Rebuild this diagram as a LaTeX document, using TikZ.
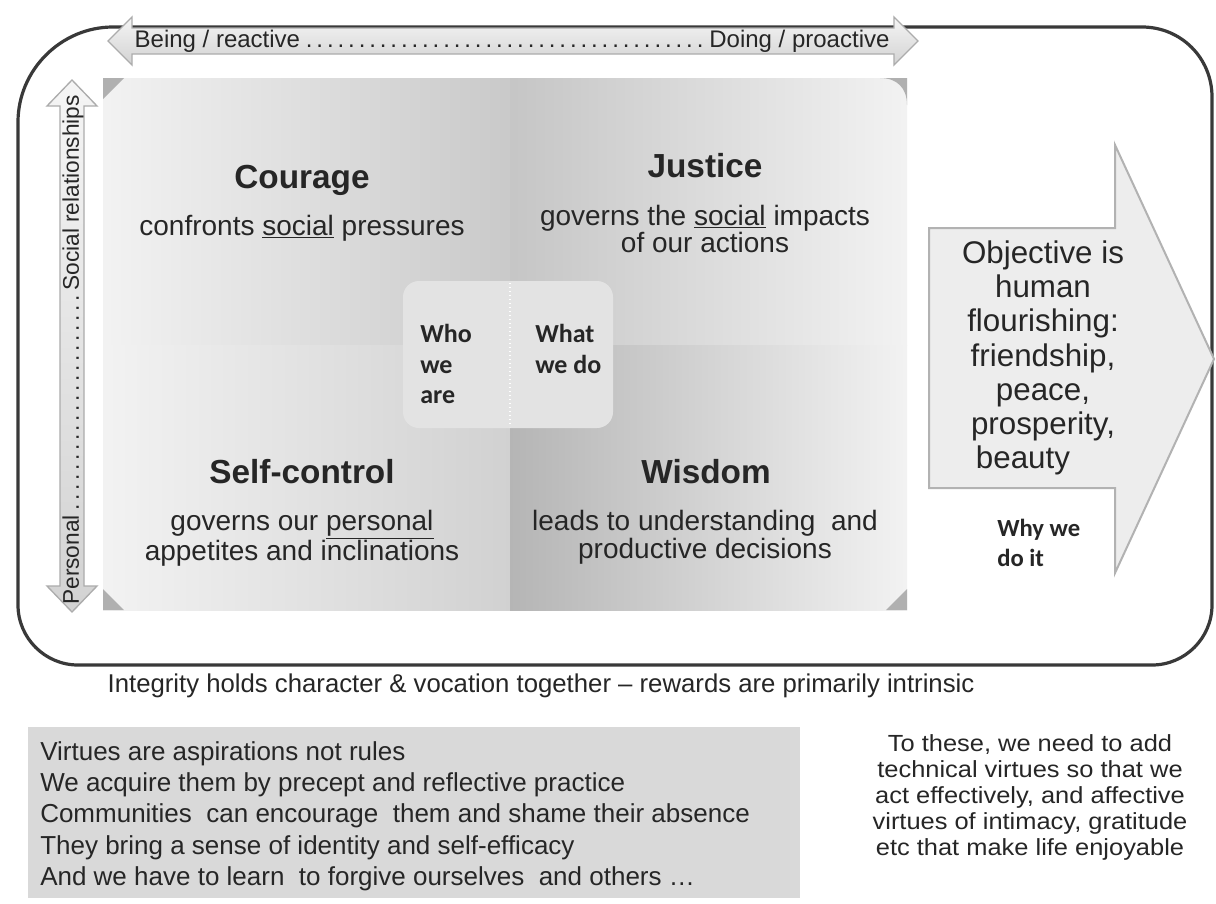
\documentclass[tikz,border=0pt]{standalone}
\usepackage{fontspec}
\setmainfont{Liberation Sans}
\newfontfamily\calib{Carlito}
\newfontfamily\widesans[FakeStretch=1.09]{Liberation Sans}
\begin{document}
\begin{tikzpicture}[x=0.75pt,y=-0.75pt,
  txt/.style={inner sep=0pt, text=black!85},
  title/.style={txt, font=\fontsize{25}{30}\selectfont\bfseries, anchor=base},
  sub/.style={txt, font=\fontsize{21}{21}\selectfont, align=center},
  frame/.style={line width=2.4pt, draw=gray!45!black},
  arrowfill/.style={draw=gray!65, line width=1pt, top color=gray!8, bottom color=gray!35},
  corner/.style={fill=gray!62},
]
\useasboundingbox (0,0) rectangle (1216,903);
\fill[white] (0,0) rectangle (1216,903);

% outer frame
\draw[frame] (18,122) .. controls (18,70) and (61,27) .. (113,27) -- (1142,27)
  .. controls (1181,27) and (1212,58) .. (1212,97) -- (1212,605)
  .. controls (1212,638) and (1185,665) .. (1152,665) -- (78,665)
  .. controls (45,665) and (18,638) .. (18,605) -- cycle;

% inner quadrants
\shade[left color=gray!10, right color=gray!42] (103,78) rectangle (510,345);
\shade[left color=gray!45, right color=gray!10] (510,78) rectangle (907,345);
\shade[left color=gray!10, right color=gray!36] (103,345) rectangle (510,610);
\shade[left color=gray!58, right color=gray!10] (510,345) rectangle (907,610);
% corners
\fill[corner] (103,78) -- (124,78) -- (103,99) -- cycle;
\fill[corner] (103,610) -- (103,589) -- (124,610) -- cycle;
\fill[corner] (907,610) -- (907,589) -- (886,610) -- cycle;
\fill[corner] (880,78) .. controls (897,78) and (907,88) .. (907,105) -- (907,78) -- cycle;

% centre box
\fill[gray!22, rounded corners=12] (403,281) rectangle (613,428);
\draw[white, dotted, line width=1pt] (510,283) -- (510,427);

% top double arrow
\draw[arrowfill] (108,41) -- (132,17) -- (132,28) -- (894,28) -- (894,17) -- (918,41)
  -- (894,65) -- (894,54) -- (132,54) -- (132,65) -- cycle;
\node[txt, font=\fontsize{18}{18}\selectfont] (topaxis) at (512,41)
  {\makebox[566pt]{Being / reactive\dotfill Doing / proactive}};

% left double arrow
\draw[arrowfill] (72,80) -- (97,106) -- (84,106) -- (84,586) -- (97,586) -- (72,612)
  -- (47,586) -- (60,586) -- (60,106) -- (47,106) -- cycle;
\node[txt, font=\fontsize{17}{17}\selectfont, rotate=90] (leftaxis) at (73,350)
  {\makebox[382pt]{Personal\dotfill Social relationships}};

% quadrant texts
\node[title] (courage) at (302,188) {Courage};
\node[txt, font=\fontsize{21}{21}\selectfont, anchor=base] (couragetxt) at (302,235)
  {confronts \underline{social} pressures};
\node[title] (justice) at (705,177) {Justice};
\node[sub, font=\fontsize{21}{20.3}\selectfont, anchor=north] (justicetxt) at (705,205)
  {governs the \underline{social} impacts\\of our actions};
\node[title] (selfcontrol) at (302,483) {Self-control};
\node[sub, font=\fontsize{21}{21}\selectfont, anchor=north] (selftxt) at (302,510)
  {governs our \underline{personal}\\appetites and inclinations};
\node[title] (wisdom) at (706,483) {Wisdom};
\node[sub, font=\fontsize{21}{21}\selectfont, anchor=north] (wisdomtxt) at (705,510)
  {leads to understanding\ \ and\\productive decisions};

% centre labels
\node[txt, font=\calib\fontsize{19.5}{23}\selectfont\bfseries, align=left, anchor=north west]
  (who) at (420,324) {Who\\we\\are};
\node[txt, font=\calib\fontsize{19.5}{23}\selectfont\bfseries, align=left, anchor=north west]
  (what) at (535,324) {What\\we do};

% right arrow
\draw[draw=gray!60, line width=1.5pt, fill=gray!14] (929,228) -- (1115,228) -- (1115,145)
  -- (1214,359) -- (1115,573) -- (1115,488) -- (929,488) -- cycle;
\node[txt, font=\fontsize{23.5}{25.7}\selectfont, align=center] (objective) at (1043,358)
  {Objective is\\human\\flourishing:\\friendship,\\peace,\\prosperity,\\beauty\hspace*{30pt}};
\node[txt, font=\calib\fontsize{18.5}{22.5}\selectfont\bfseries, align=left, anchor=north west]
  (why) at (997,519) {Why we\\do it};

% bottom texts
\node[txt, font=\fontsize{19.3}{20}\selectfont, anchor=base] (integrity) at (541,692)
  {Integrity holds character \& vocation together -- rewards are primarily intrinsic};
\fill[gray!30] (28,727) rectangle (800,898);
\node[txt, font=\fontsize{19.5}{23.5}\selectfont, align=left, anchor=north west] (virtues) at (40,741)
  {Virtues are aspirations not rules\\
   We acquire them by precept and reflective practice\\
   Communities\ \ can encourage\ \ them and shame their absence\\
   They bring a sense of identity and self-efficacy\\
   And we have to learn\ \ to forgive ourselves\ \ and others \dots};
\node[txt, font=\widesans\fontsize{17.5}{19.5}\selectfont, align=center] (technical) at (1030,797)
  {To these, we need to add\\technical virtues so that we\\act effectively, and affective\\
   virtues of intimacy, gratitude\\etc that make life enjoyable};
\end{tikzpicture}
\end{document}
